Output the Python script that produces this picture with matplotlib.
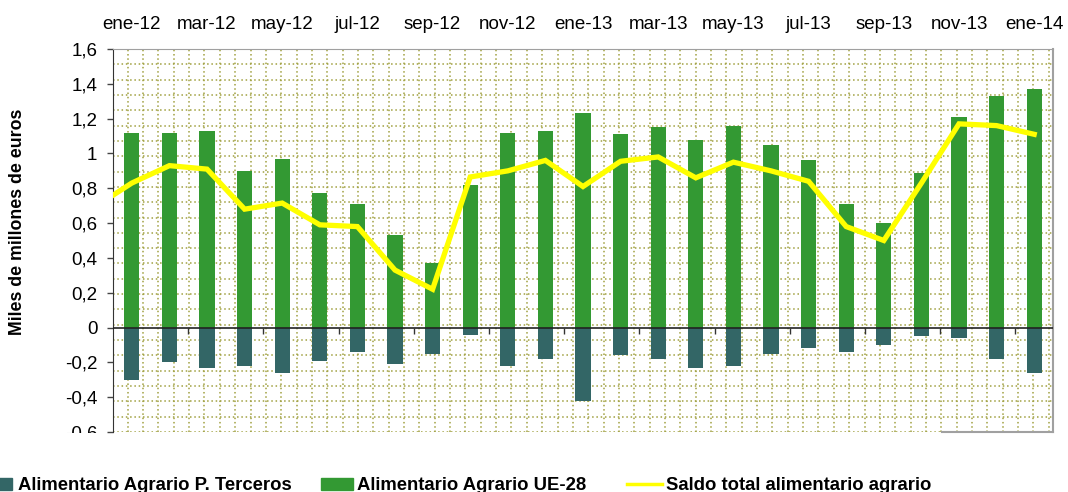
import matplotlib.pyplot as plt
import numpy as np
from matplotlib.patches import Rectangle
from matplotlib.lines import Line2D

plt.rcParams['font.family'] = ['Liberation Sans', 'DejaVu Sans']

meses = ['ene-12', 'feb-12', 'mar-12', 'abr-12', 'may-12', 'jun-12', 'jul-12', 'ago-12',
         'sep-12', 'oct-12', 'nov-12', 'dic-12', 'ene-13', 'feb-13', 'mar-13', 'abr-13',
         'may-13', 'jun-13', 'jul-13', 'ago-13', 'sep-13', 'oct-13', 'nov-13', 'dic-13', 'ene-14']

# miles de millones de euros
ue28 = [1.12, 1.12, 1.13, 0.90, 0.97, 0.77, 0.71, 0.53, 0.37, 0.82, 1.12, 1.13, 1.23,
        1.11, 1.15, 1.08, 1.16, 1.05, 0.96, 0.71, 0.60, 0.89, 1.21, 1.33, 1.37]
terceros = [-0.30, -0.20, -0.23, -0.22, -0.26, -0.19, -0.14, -0.21, -0.15, -0.04, -0.22, -0.18, -0.42,
            -0.16, -0.18, -0.23, -0.22, -0.15, -0.12, -0.14, -0.10, -0.05, -0.06, -0.18, -0.26]
saldo = [0.83, 0.93, 0.91, 0.68, 0.715, 0.59, 0.58, 0.33, 0.22, 0.865, 0.90, 0.96, 0.81,
         0.955, 0.98, 0.86, 0.95, 0.90, 0.84, 0.58, 0.50, 0.83, 1.17, 1.16, 1.11]
saldo_dic11 = 0.69  # punto anterior, queda fuera del eje

c_ter = '#336666'
c_ue = '#339933'
c_saldo = '#ffff00'
c_grid = '#a0a040'

W, H = 1068, 492
fig = plt.figure(figsize=(W/100, H/100), dpi=100)
ax = fig.add_axes([113/W, 1-432/H, 940/W, 383/H])

x = np.arange(len(meses))

# fondo con trama de puntos
for f in np.linspace(0, 1, 26):
    ax.axhline(f*2.2-0.6, color=c_grid, lw=1.1, ls=(0, (1, 1.8)), zorder=0)
for px in np.arange(14.7, 940, 15.35):
    ax.axvline(px/940*25-0.5, color=c_grid, lw=1.1, ls=(0, (1, 1.8)), zorder=0)

ax.bar(x, terceros, width=0.4, color=c_ter, zorder=2)
ax.bar(x, ue28, width=0.4, color=c_ue, zorder=2)
ax.plot(np.r_[-1, x], [saldo_dic11] + saldo, color=c_saldo, lw=3.8, zorder=4,
        solid_joinstyle='miter')

ax.axhline(0, color='#222222', lw=1.2, zorder=3)
ax.vlines(np.arange(1.5, 24, 2), -0.035, 0, color='#333333', lw=1, zorder=3)

ax.set_xlim(-0.5, 24.5)
ax.set_ylim(-0.6, 1.6)

yt = np.arange(-0.6, 1.61, 0.2)
ax.set_yticks(yt)
ax.set_yticklabels([('%g' % round(v, 1)).replace('.', ',') for v in yt], fontsize=13.5)
ax.tick_params(axis='y', length=4.3, width=1, color='#444444', pad=7)

ax.xaxis.tick_top()
ax.set_xticks(x[::2])
ax.set_xticklabels(meses[::2], fontsize=13.5)
ax.tick_params(axis='x', length=0, pad=11.5)

ax.spines['left'].set_color('#333333')
ax.spines['top'].set_color('#a0a0a0')
ax.spines['right'].set_color('#a0a0a0')
ax.spines['right'].set_linewidth(1.5)
ax.spines['bottom'].set_visible(False)
ax.plot([0.882, 1], [0, 0], transform=ax.transAxes, color='#a0a0a0', lw=1.5, clip_on=False)

fig.text(18/W, 1-221.7/H, 'Miles de millones de euros', rotation=90, ha='center', va='center',
         fontsize=12.8, fontweight='bold')

# el -0,6 queda tapado en el original
fig.patches.append(Rectangle((40/W, 1-455/H), 66/W, 22/H, transform=fig.transFigure,
                             facecolor='white', edgecolor='none', zorder=5))

# leyenda
ly = 1-490/H
fig.patches.append(Rectangle((-19.7/W, ly), 31.7/W, 12/H, transform=fig.transFigure, color=c_ter))
fig.text(18/W, 1-489.5/H, 'Alimentario Agrario P. Terceros', fontsize=13.3, fontweight='bold', va='baseline')
fig.patches.append(Rectangle((321/W, ly), 31.7/W, 12/H, transform=fig.transFigure, color=c_ue))
fig.text(357/W, 1-489.5/H, 'Alimentario Agrario UE-28', fontsize=13.3, fontweight='bold', va='baseline')
fig.lines.append(Line2D([627/W, 662/W], [1-483.5/H]*2, transform=fig.transFigure, color=c_saldo, lw=2.5))
fig.text(666/W, 1-489.5/H, 'Saldo total alimentario agrario', fontsize=13.3, fontweight='bold', va='baseline')

plt.savefig('out.png', dpi=100)
